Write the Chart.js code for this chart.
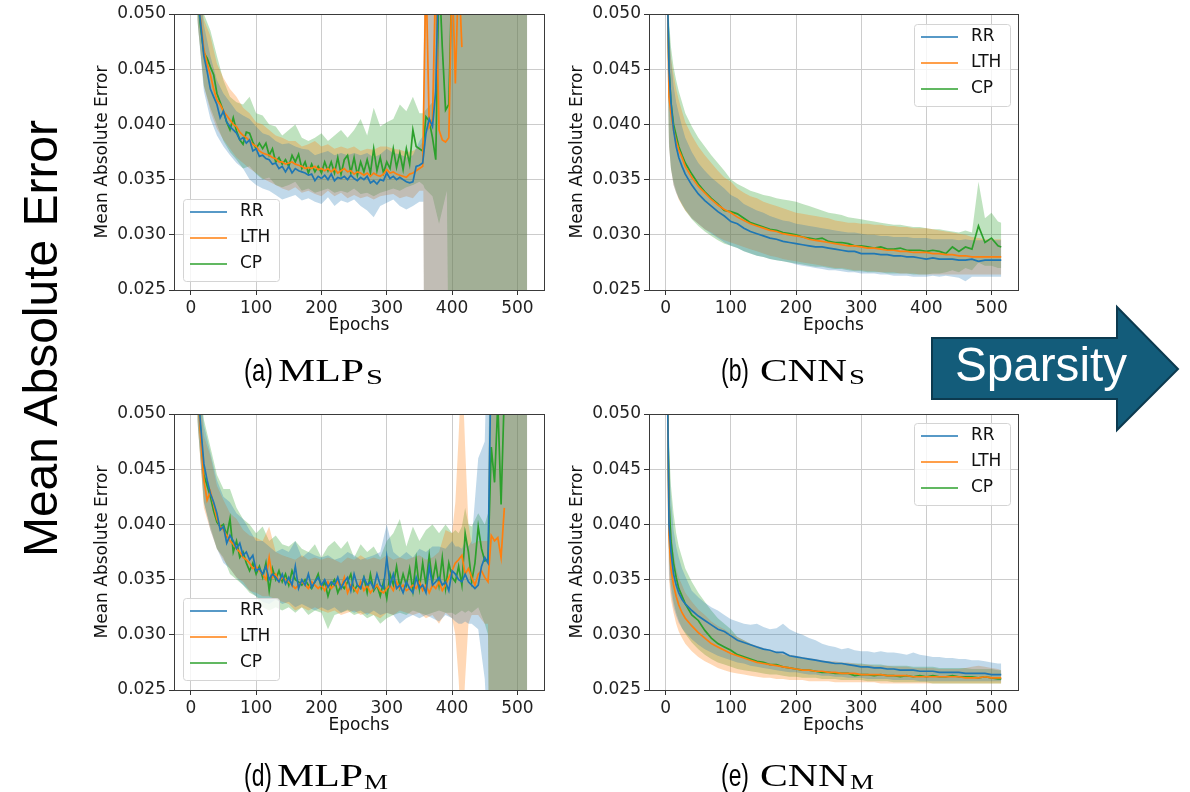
<!DOCTYPE html>
<html lang="en">
<head>
  <meta charset="UTF-8" />
  <title>Mean Absolute Error vs Epochs</title>
  <script src="https://cdn.jsdelivr.net/npm/chart.js"></script>
  <style>
    body { margin: 0; width: 1190px; height: 792px; background: #fff; position: relative; overflow: hidden; }
    canvas { position: absolute; }
    svg { position: absolute; left: 0; top: 0; z-index: 5; }
  </style>
</head>
<body>
  <canvas id="cA" width="475" height="340" style="left:80px; top:0px"></canvas>
  <canvas id="cB" width="470" height="340" style="left:560px; top:0px"></canvas>
  <canvas id="cD" width="475" height="340" style="left:80px; top:400px"></canvas>
  <canvas id="cE" width="470" height="340" style="left:560px; top:400px"></canvas>

  <svg width="1190" height="792">
    <text transform="translate(57,338.5) rotate(-90)" text-anchor="middle" font-family="Liberation Sans" font-size="48" textLength="437" lengthAdjust="spacingAndGlyphs">Mean Absolute Error</text>

    <polygon points="932,338 1117,338 1117,307 1178,369 1117,430 1117,399 932,399" fill="#135c7a" stroke="#0c3a4f" stroke-width="2" />
    <text x="955" y="381" fill="#fff" font-family="Liberation Sans" font-size="48" textLength="172" lengthAdjust="spacingAndGlyphs">Sparsity</text>

    <g font-size="32">
      <text x="244" y="381" font-family="Liberation Sans" textLength="29" lengthAdjust="spacingAndGlyphs">(a)</text>
      <text x="278" y="381" font-family="Liberation Serif" textLength="86" lengthAdjust="spacingAndGlyphs">MLP</text>
      <text x="366" y="384" font-family="Liberation Serif" font-size="21" textLength="17" lengthAdjust="spacingAndGlyphs">S</text>

      <text x="721" y="381" font-family="Liberation Sans" textLength="28" lengthAdjust="spacingAndGlyphs">(b)</text>
      <text x="760" y="381" font-family="Liberation Serif" textLength="87" lengthAdjust="spacingAndGlyphs">CNN</text>
      <text x="849" y="384" font-family="Liberation Serif" font-size="21" textLength="16" lengthAdjust="spacingAndGlyphs">S</text>

      <text x="244" y="786" font-family="Liberation Sans" textLength="28" lengthAdjust="spacingAndGlyphs">(d)</text>
      <text x="277" y="786" font-family="Liberation Serif" textLength="86" lengthAdjust="spacingAndGlyphs">MLP</text>
      <text x="364" y="789" font-family="Liberation Serif" font-size="21" textLength="24" lengthAdjust="spacingAndGlyphs">M</text>

      <text x="721" y="786" font-family="Liberation Sans" textLength="28" lengthAdjust="spacingAndGlyphs">(e)</text>
      <text x="760" y="786" font-family="Liberation Serif" textLength="88" lengthAdjust="spacingAndGlyphs">CNN</text>
      <text x="850" y="789" font-family="Liberation Serif" font-size="21" textLength="24" lengthAdjust="spacingAndGlyphs">M</text>
    </g>
  </svg>

  <script>
    // ---- axes ----
    const xTicks = [0, 100, 200, 300, 400, 500];
    const yTicks = [0.025, 0.030, 0.035, 0.040, 0.045, 0.050];
    const seriesNames = ['RR', 'LTH', 'CP'];
    const lineColors = ['#1f77b4', '#ff7f0e', '#2ca02c'];
    const bandColors = ['rgba(31,119,180,0.28)', 'rgba(255,127,14,0.3)', 'rgba(44,160,44,0.3)'];

    // ---- (a) MLP_S ----
    const mlpSEpochs = [
      10, 15, 20, 25, 30, 35, 40, 45, 50, 55,
      60, 65, 70, 75, 80, 85, 90, 95, 100, 105,
      110, 115, 120, 125, 130, 135, 140, 145, 150, 155,
      160, 165, 170, 175, 180, 185, 190, 195, 200, 205,
      210, 215, 220, 225, 230, 235, 240, 245, 250, 255,
      260, 265, 270, 275, 280, 285, 290, 295, 300, 305,
      310, 315, 320, 325, 330, 335, 340, 345, 350, 355,
      360, 365, 370, 375, 380, 385, 390, 395, 400, 405,
      410, 415];
    const rrMlpS = [
      0.052, 0.0492, 0.0462, 0.0448, 0.0432, 0.0425, 0.0418, 0.0406, 0.0412, 0.0402,
      0.0398, 0.0395, 0.0392, 0.0386, 0.0388, 0.0383, 0.0386, 0.0376, 0.0378, 0.0371,
      0.0372, 0.0369, 0.0368, 0.0364, 0.0365, 0.0360, 0.0362, 0.0357, 0.0362, 0.0356,
      0.0360, 0.0358, 0.0357, 0.0356, 0.0354, 0.0355, 0.0349, 0.0353, 0.0351, 0.0354,
      0.0350, 0.0355, 0.0349, 0.0352, 0.0351, 0.0353, 0.0350, 0.0354, 0.0351, 0.0349,
      0.0352, 0.0350, 0.0353, 0.0347, 0.0349, 0.0346, 0.0350, 0.0349, 0.0356, 0.0351,
      0.0353, 0.0350, 0.0352, 0.0350, 0.0348, 0.0347, 0.0348, 0.0362, 0.0363, 0.0365,
      0.0392, 0.0405, 0.0398, 0.0430, 0.0560, null, null, null, null, null,
      null, null];
    const lthMlpS = [
      0.052, 0.0495, 0.0468, 0.0455, 0.0445, 0.0432, 0.0422, 0.0418, 0.0412, 0.0408,
      0.0404, 0.0400, 0.0398, 0.0393, 0.0390, 0.0388, 0.0385, 0.0382, 0.0380, 0.0376,
      0.0374, 0.0373, 0.0372, 0.0370, 0.0369, 0.0366, 0.0366, 0.0364, 0.0365, 0.0366,
      0.0364, 0.0363, 0.0362, 0.0360, 0.0361, 0.0360, 0.0362, 0.0359, 0.0360, 0.0358,
      0.0360, 0.0357, 0.0360, 0.0356, 0.0358, 0.0360, 0.0357, 0.0358, 0.0355, 0.0357,
      0.0356, 0.0354, 0.0356, 0.0353, 0.0356, 0.0354, 0.0353, 0.0355, 0.0359, 0.0356,
      0.0357, 0.0355, 0.0354, 0.0353, 0.0352, 0.0355, 0.0356, 0.0358, 0.0360, 0.0362,
      0.0540, 0.0398, 0.0405, 0.0540, 0.0395, 0.0386, 0.0384, 0.0388, 0.0540, 0.0437,
      0.0540, 0.0470];
    const cpMlpS = [
      0.052, 0.0488, 0.0465, 0.0460, 0.0452, 0.0445, 0.0428, 0.0420, 0.0412, 0.0402,
      0.0395, 0.0406, 0.0394, 0.0386, 0.0382, 0.0393, 0.0392, 0.0384, 0.0378, 0.0383,
      0.0378, 0.0383, 0.0372, 0.0378, 0.0366, 0.0370, 0.0364, 0.0368, 0.0362, 0.0372,
      0.0366, 0.0373, 0.0360, 0.0366, 0.0356, 0.0364, 0.0357, 0.0362, 0.0356, 0.0366,
      0.0358, 0.0366, 0.0356, 0.0370, 0.0355, 0.0368, 0.0372, 0.0356, 0.0370, 0.0354,
      0.0366, 0.0357, 0.0368, 0.0356, 0.0378, 0.0358, 0.0370, 0.0356, 0.0366, 0.0360,
      0.0378, 0.0361, 0.0374, 0.0359, 0.0378, 0.0364, 0.0395, 0.0380, 0.0378, 0.0376,
      0.0407, 0.0403, 0.0388, 0.0368, 0.0540, 0.0470, 0.0413, 0.0418, 0.0540, null,
      null, null];

    const bandSEpochs = [
      10, 20, 30, 40, 50, 60, 70, 80, 90, 100,
      110, 120, 130, 140, 150, 160, 170, 180, 190, 200,
      210, 220, 230, 240, 250, 260, 270, 280, 290, 300,
      310, 320, 330, 340, 350, 356, 358, 370, 380, 392,
      396, 410, 420, 430, 440, 450, 460, 470, 480, 490, 500, 510, 515];
    const rrMlpSLo = [
      0.0495, 0.0430, 0.0405, 0.0390, 0.0380, 0.0372, 0.0365, 0.0360, 0.0350, 0.0345,
      0.0342, 0.0340, 0.0336, 0.0332, 0.0334, 0.0336, 0.0331, 0.0333, 0.0330, 0.0328,
      0.0334, 0.0326, 0.0331, 0.0329, 0.0332, 0.0326, 0.0322, 0.0316, 0.0326, 0.0329,
      0.0332, 0.0326, 0.0323, 0.0326, 0.0330, 0.0330, 0.010, 0.010, 0.010, 0.010,
      0.010, 0.010, 0.010, 0.010, 0.010, 0.010, 0.010, 0.010, 0.010, 0.010, 0.010, 0.010, 0.010];
    const rrMlpSHi = [
      0.055, 0.0490, 0.0462, 0.0440, 0.0428, 0.0420, 0.0412, 0.0408, 0.0405, 0.0398,
      0.0392, 0.0390, 0.0385, 0.0382, 0.0383, 0.0380, 0.0378, 0.0377, 0.0372, 0.0374,
      0.0376, 0.0372, 0.0374, 0.0372, 0.0374, 0.0372, 0.0374, 0.0370, 0.0373, 0.0378,
      0.0374, 0.0373, 0.0370, 0.0372, 0.0385, 0.0390, 0.060, 0.060, 0.060, 0.060,
      0.060, 0.060, 0.060, 0.060, 0.060, 0.060, 0.060, 0.060, 0.060, 0.060, 0.060, 0.060, 0.060];
    const lthMlpSLo = [
      0.0495, 0.0435, 0.0412, 0.0396, 0.0386, 0.0378, 0.0370, 0.0365, 0.0360, 0.0356,
      0.0351, 0.0348, 0.0345, 0.0342, 0.0340, 0.0343, 0.0338, 0.0340, 0.0337, 0.0335,
      0.0340, 0.0335, 0.0338, 0.0333, 0.0336, 0.0333, 0.0335, 0.0332, 0.0335, 0.0336,
      0.0337, 0.0333, 0.0335, 0.0333, 0.0340, 0.0340, 0.010, 0.010, 0.010, 0.010,
      0.010, 0.010, 0.010, 0.010, 0.010, 0.010, 0.010, 0.010, 0.010, 0.010, 0.010, 0.010, 0.010];
    const lthMlpSHi = [
      0.055, 0.0495, 0.0480, 0.0455, 0.0442, 0.0432, 0.0425, 0.0415, 0.0410, 0.0402,
      0.0400, 0.0395, 0.0390, 0.0388, 0.0385, 0.0385, 0.0380, 0.0382, 0.0385, 0.0380,
      0.0382, 0.0378, 0.0380, 0.0378, 0.0380, 0.0376, 0.0378, 0.0377, 0.0380, 0.0380,
      0.0378, 0.0377, 0.0375, 0.0376, 0.0380, 0.0385, 0.060, 0.060, 0.060, 0.060,
      0.060, 0.060, 0.060, 0.060, 0.060, 0.060, 0.060, 0.060, 0.060, 0.060, 0.060, 0.060, 0.060];
    const cpMlpSLo = [
      0.0495, 0.0435, 0.0415, 0.0400, 0.0385, 0.0375, 0.0368, 0.0360, 0.0362, 0.0355,
      0.0350, 0.0352, 0.0345, 0.0343, 0.0345, 0.0348, 0.0340, 0.0342, 0.0338, 0.0340,
      0.0342, 0.0338, 0.0340, 0.0338, 0.0342, 0.0337, 0.0338, 0.0335, 0.0338, 0.0340,
      0.0342, 0.0340, 0.0343, 0.0345, 0.0348, 0.0345, 0.0342, 0.0335, 0.0310, 0.0340,
      0.010, 0.010, 0.010, 0.010, 0.010, 0.010, 0.010, 0.010, 0.010, 0.010, 0.010, 0.010, 0.010];
    const cpMlpSHi = [
      0.055, 0.0500, 0.0485, 0.0462, 0.0440, 0.0425, 0.0420, 0.0418, 0.0425, 0.0410,
      0.0408, 0.0400, 0.0398, 0.0390, 0.0395, 0.0400, 0.0388, 0.0385, 0.0388, 0.0392,
      0.0385, 0.0390, 0.0395, 0.0388, 0.0395, 0.0405, 0.0390, 0.0415, 0.0398, 0.0402,
      0.0405, 0.0418, 0.0412, 0.0425, 0.0410, 0.0410, 0.0412, 0.0420, 0.060, 0.060,
      0.060, 0.060, 0.060, 0.060, 0.060, 0.060, 0.060, 0.060, 0.060, 0.060, 0.060, 0.060, 0.060];

    // ---- (d) MLP_M ----
    const mlpMEpochs = [
      10, 15, 20, 25, 30, 35, 40, 45, 50, 55,
      60, 65, 70, 75, 80, 85, 90, 95, 100, 105,
      110, 115, 120, 125, 130, 135, 140, 145, 150, 155,
      160, 165, 170, 175, 180, 185, 190, 195, 200, 205,
      210, 215, 220, 225, 230, 235, 240, 245, 250, 255,
      260, 265, 270, 275, 280, 285, 290, 295, 300, 305,
      310, 315, 320, 325, 330, 335, 340, 345, 350, 355,
      360, 365, 370, 375, 380, 385, 390, 395, 400, 405,
      410, 415, 420, 425, 430, 435, 440, 445, 450, 455,
      460, 465, 470, 475, 480];
    const rrMlpM = [
      0.053, 0.0490, 0.0455, 0.0440, 0.0428, 0.0420, 0.0410, 0.0395, 0.0398, 0.0383,
      0.0390, 0.0385, 0.0378, 0.0383, 0.0372, 0.0375, 0.0368, 0.0372, 0.0358, 0.0360,
      0.0355, 0.0362, 0.0350, 0.0355, 0.0352, 0.0348, 0.0355, 0.0346, 0.0352, 0.0345,
      0.0362, 0.0342, 0.0350, 0.0345, 0.0355, 0.0343, 0.0348, 0.0352, 0.0345, 0.0350,
      0.0343, 0.0348, 0.0345, 0.0352, 0.0342, 0.0348, 0.0352, 0.0340, 0.0355, 0.0345,
      0.0342, 0.0352, 0.0345, 0.0348, 0.0342, 0.0355, 0.0345, 0.0342, 0.0370, 0.0345,
      0.0355, 0.0342, 0.0345, 0.0338, 0.0348, 0.0342, 0.0338, 0.0352, 0.0342, 0.0345,
      0.0338, 0.0362, 0.0345, 0.0348, 0.0352, 0.0345, 0.0348, 0.0340, 0.0358, 0.0355,
      0.0350, 0.0348, 0.0355, 0.0348, 0.0345, 0.0342, 0.0345, 0.0362, 0.0370, 0.0365,
      0.0560, null, null, null, null];
    const lthMlpM = [
      0.053, 0.0480, 0.0440, 0.0422, 0.0430, 0.0418, 0.0405, 0.0398, 0.0395, 0.0390,
      0.0385, 0.0382, 0.0378, 0.0375, 0.0370, 0.0368, 0.0365, 0.0360, 0.0362, 0.0358,
      0.0355, 0.0350, 0.0370, 0.0352, 0.0355, 0.0348, 0.0352, 0.0350, 0.0348, 0.0345,
      0.0342, 0.0345, 0.0348, 0.0345, 0.0342, 0.0348, 0.0345, 0.0342, 0.0345, 0.0340,
      0.0348, 0.0342, 0.0345, 0.0348, 0.0342, 0.0352, 0.0338, 0.0345, 0.0342, 0.0338,
      0.0348, 0.0340, 0.0345, 0.0338, 0.0342, 0.0345, 0.0340, 0.0338, 0.0342, 0.0345,
      0.0340, 0.0348, 0.0342, 0.0345, 0.0340, 0.0342, 0.0345, 0.0342, 0.0348, 0.0340,
      0.0345, 0.0338, 0.0345, 0.0342, 0.0348, 0.0340, 0.0345, 0.0352, 0.0358, 0.0365,
      0.0368, 0.0372, 0.0355, 0.0360, 0.0352, 0.0345, 0.0355, 0.0358, 0.0352, 0.0348,
      0.0390, 0.0385, 0.0388, 0.0370, 0.0415];
    const cpMlpM = [
      0.053, 0.0485, 0.0445, 0.0435, 0.0425, 0.0412, 0.0402, 0.0398, 0.0400, 0.0390,
      0.0405, 0.0375, 0.0385, 0.0370, 0.0375, 0.0365, 0.0358, 0.0365, 0.0355, 0.0362,
      0.0352, 0.0365, 0.0340, 0.0360, 0.0350, 0.0358, 0.0348, 0.0355, 0.0345, 0.0358,
      0.0350, 0.0348, 0.0345, 0.0350, 0.0345, 0.0342, 0.0348, 0.0355, 0.0342, 0.0348,
      0.0335, 0.0345, 0.0350, 0.0338, 0.0345, 0.0342, 0.0348, 0.0355, 0.0340, 0.0345,
      0.0342, 0.0352, 0.0338, 0.0355, 0.0340, 0.0345, 0.0335, 0.0348, 0.0333, 0.0355,
      0.0345, 0.0362, 0.0343, 0.0355, 0.0345, 0.0360, 0.0340, 0.0368, 0.0342, 0.0365,
      0.0345, 0.0372, 0.0348, 0.0365, 0.0345, 0.0370, 0.0342, 0.0365, 0.0352, 0.0348,
      0.0362, 0.0345, 0.0392, 0.0375, 0.0348, 0.0365, 0.0398, 0.0378, 0.0367, 0.0368,
      0.0470, 0.0438, 0.0510, 0.0418, 0.0520];

    const bandMEpochs = [
      10, 20, 30, 40, 50, 60, 70, 80, 90, 100,
      110, 120, 130, 140, 150, 160, 170, 180, 190, 200,
      210, 220, 230, 240, 250, 260, 270, 280, 290, 300,
      310, 320, 330, 340, 350, 360, 370, 380, 390, 400,
      405, 410, 415, 420, 425, 430, 440, 450, 455, 458,
      470, 480, 490, 500, 510, 515];
    const rrMlpMLo = [
      0.0495, 0.0420, 0.0395, 0.0378, 0.0365, 0.0360, 0.0352, 0.0345, 0.0340, 0.0335,
      0.0330, 0.0328, 0.0332, 0.0328, 0.0330, 0.0325, 0.0328, 0.0325, 0.0322, 0.0325,
      0.0322, 0.0325, 0.0320, 0.0323, 0.0320, 0.0322, 0.0318, 0.0322, 0.0318, 0.0320,
      0.0318, 0.0310, 0.0315, 0.0318, 0.0315, 0.0318, 0.0315, 0.0312, 0.0318, 0.0315,
      0.0312, 0.0310, 0.0310, 0.0312, 0.0310, 0.0310, 0.0305, 0.0260, 0.0200, 0.010,
      0.010, 0.010, 0.010, 0.010, 0.010, 0.010];
    const rrMlpMHi = [
      0.055, 0.0490, 0.0465, 0.0440, 0.0425, 0.0420, 0.0410, 0.0405, 0.0395, 0.0385,
      0.0385, 0.0380, 0.0375, 0.0378, 0.0375, 0.0385, 0.0370, 0.0375, 0.0372, 0.0370,
      0.0372, 0.0368, 0.0370, 0.0375, 0.0372, 0.0368, 0.0370, 0.0372, 0.0375, 0.0400,
      0.0375, 0.0370, 0.0375, 0.0370, 0.0378, 0.0375, 0.0380, 0.0380, 0.0378, 0.0385,
      0.0380, 0.0380, 0.0378, 0.0385, 0.0380, 0.0385, 0.0460, 0.0475, 0.060, 0.060,
      0.060, 0.060, 0.060, 0.060, 0.060, 0.060];
    const lthMlpMLo = [
      0.0495, 0.0415, 0.0395, 0.0378, 0.0368, 0.0360, 0.0352, 0.0348, 0.0340, 0.0338,
      0.0335, 0.0335, 0.0332, 0.0330, 0.0328, 0.0322, 0.0325, 0.0322, 0.0325, 0.0322,
      0.0320, 0.0322, 0.0318, 0.0320, 0.0322, 0.0318, 0.0320, 0.0318, 0.0315, 0.0320,
      0.0318, 0.0322, 0.0320, 0.0318, 0.0320, 0.0315, 0.0318, 0.0310, 0.0320, 0.0315,
      0.0300, 0.0260, 0.0200, 0.0260, 0.0310, 0.0318, 0.0318, 0.0310, 0.0310, 0.010,
      0.010, 0.010, 0.010, 0.010, 0.010, 0.010];
    const lthMlpMHi = [
      0.055, 0.0480, 0.0462, 0.0435, 0.0422, 0.0410, 0.0405, 0.0395, 0.0390, 0.0388,
      0.0385, 0.0398, 0.0375, 0.0372, 0.0370, 0.0368, 0.0372, 0.0368, 0.0370, 0.0368,
      0.0370, 0.0368, 0.0365, 0.0370, 0.0368, 0.0372, 0.0368, 0.0370, 0.0368, 0.0372,
      0.0368, 0.0370, 0.0368, 0.0370, 0.0372, 0.0368, 0.0370, 0.0375, 0.0395, 0.0392,
      0.0420, 0.0480, 0.0550, 0.0470, 0.0400, 0.0382, 0.0385, 0.0385, 0.0385, 0.060,
      0.060, 0.060, 0.060, 0.060, 0.060, 0.060];
    const cpMlpMLo = [
      0.0495, 0.0420, 0.0398, 0.0378, 0.0370, 0.0355, 0.0350, 0.0345, 0.0338, 0.0335,
      0.0325, 0.0322, 0.0325, 0.0322, 0.0325, 0.0320, 0.0325, 0.0318, 0.0322, 0.0320,
      0.0305, 0.0318, 0.0320, 0.0322, 0.0318, 0.0320, 0.0315, 0.0318, 0.0310, 0.0315,
      0.0318, 0.0320, 0.0318, 0.0322, 0.0320, 0.0318, 0.0320, 0.0322, 0.0320, 0.0320,
      0.0318, 0.0320, 0.0322, 0.0320, 0.0322, 0.0320, 0.0325, 0.0310, 0.0300, 0.010,
      0.010, 0.010, 0.010, 0.010, 0.010, 0.010];
    const cpMlpMHi = [
      0.055, 0.0495, 0.0470, 0.0445, 0.0432, 0.0432, 0.0415, 0.0405, 0.0400, 0.0392,
      0.0398, 0.0385, 0.0390, 0.0382, 0.0380, 0.0385, 0.0378, 0.0375, 0.0382, 0.0370,
      0.0380, 0.0385, 0.0378, 0.0385, 0.0370, 0.0382, 0.0375, 0.0380, 0.0370, 0.0385,
      0.0392, 0.0405, 0.0380, 0.0398, 0.0385, 0.0395, 0.0400, 0.0392, 0.0400, 0.0392,
      0.0395, 0.0392, 0.0398, 0.0415, 0.0400, 0.0398, 0.0410, 0.0400, 0.0410, 0.060,
      0.060, 0.060, 0.060, 0.060, 0.060, 0.060];

    // ---- CNN panels share one epoch grid ----
    const cnnEpochs = [
      3, 5, 8, 12, 16, 20, 25, 30,
      40, 50, 60, 70, 80, 90, 100, 110, 120, 130,
      140, 150, 160, 170, 180, 190, 200, 210, 220, 230,
      240, 250, 260, 270, 280, 290, 300, 310, 320, 330,
      340, 350, 360, 370, 380, 390, 400, 410, 420, 430,
      440, 450, 460, 470, 480, 490, 500, 510, 515];

    // (b) CNN_S
    const rrCnnS = [
      0.051, 0.045, 0.042, 0.0395, 0.038, 0.037, 0.0362, 0.0355,
      0.0345, 0.0337, 0.0331, 0.0326, 0.0321, 0.0317, 0.0312, 0.0310, 0.0306, 0.0303,
      0.0301, 0.0299, 0.0297, 0.0296, 0.0294, 0.0293, 0.0292, 0.0291, 0.0290, 0.0289,
      0.0289, 0.0288, 0.0287, 0.0286, 0.0285, 0.0285, 0.0283, 0.0283, 0.0283, 0.0282,
      0.0282, 0.0281, 0.0281, 0.0280, 0.0280, 0.0279, 0.0278, 0.0279, 0.0278, 0.0278,
      0.0278, 0.0277, 0.0277, 0.0278, 0.0276, 0.0277, 0.0277, 0.0277, 0.0277];
    const lthCnnS = [
      0.051, 0.0425, 0.041, 0.0395, 0.0385, 0.0377, 0.037, 0.0362,
      0.0352, 0.0344, 0.0338, 0.0332, 0.0327, 0.0323, 0.0320, 0.0316, 0.0313, 0.0310,
      0.0308, 0.0306, 0.0304, 0.0303, 0.0301, 0.0300, 0.0299, 0.0298, 0.0296, 0.0295,
      0.0294, 0.0293, 0.0292, 0.0291, 0.0290, 0.0290, 0.0289, 0.0288, 0.0288, 0.0287,
      0.0286, 0.0286, 0.0285, 0.0285, 0.0284, 0.0284, 0.0284, 0.0283, 0.0283, 0.0282,
      0.0282, 0.0281, 0.0281, 0.0280, 0.0280, 0.0280, 0.0280, 0.0280, 0.0280];
    const cpCnnS = [
      0.051, 0.045, 0.042, 0.040, 0.039, 0.038, 0.0372, 0.0365,
      0.0355, 0.0346, 0.0339, 0.0333, 0.0328, 0.0322, 0.0321, 0.0319, 0.0315, 0.0311,
      0.0309, 0.0307, 0.0305, 0.0304, 0.0302, 0.0301, 0.0300, 0.0298, 0.0297, 0.0296,
      0.0297, 0.0294, 0.0293, 0.0293, 0.0292, 0.0290, 0.0290, 0.0289, 0.0288, 0.0289,
      0.0287, 0.0287, 0.0288, 0.0286, 0.0286, 0.0286, 0.0285, 0.0286, 0.0285, 0.0283,
      0.0289, 0.0285, 0.0289, 0.0287, 0.0308, 0.0293, 0.0297, 0.0290, 0.0289];
    const rrCnnSLo = [
      0.045, 0.038, 0.036, 0.0345, 0.0338, 0.0333, 0.0328, 0.0323,
      0.0315, 0.0310, 0.0305, 0.0301, 0.0297, 0.0293, 0.0290, 0.0288, 0.0285, 0.0283,
      0.0281, 0.0280, 0.0278, 0.0277, 0.0276, 0.0275, 0.0273, 0.0272, 0.0271, 0.0270,
      0.0269, 0.0268, 0.0268, 0.0267, 0.0266, 0.0266, 0.0265, 0.0265, 0.0265, 0.0264,
      0.0264, 0.0263, 0.0263, 0.0263, 0.0262, 0.0262, 0.0262, 0.0263, 0.0262, 0.0263,
      0.0262, 0.0261, 0.0258, 0.0262, 0.0262, 0.0262, 0.0262, 0.0262, 0.0262];
    const rrCnnSHi = [
      0.052, 0.049, 0.046, 0.0435, 0.042, 0.041, 0.0398, 0.0388,
      0.0375, 0.0365, 0.0358, 0.0352, 0.0347, 0.0342, 0.0336, 0.0333, 0.0328, 0.0325,
      0.0322, 0.0320, 0.0317, 0.0315, 0.0313, 0.0312, 0.0310, 0.0309, 0.0308, 0.0307,
      0.0306, 0.0305, 0.0304, 0.0303, 0.0302, 0.0302, 0.0301, 0.0300, 0.0300, 0.0299,
      0.0299, 0.0298, 0.0298, 0.0298, 0.0297, 0.0297, 0.0297, 0.0296, 0.0296, 0.0296,
      0.0296, 0.0295, 0.0296, 0.0295, 0.0295, 0.0295, 0.0295, 0.0295, 0.0295];
    const lthCnnSLo = [
      0.046, 0.038, 0.036, 0.0345, 0.0338, 0.0332, 0.0327, 0.0322,
      0.0315, 0.0310, 0.0305, 0.0302, 0.0298, 0.0295, 0.0293, 0.0291, 0.0289, 0.0287,
      0.0285, 0.0283, 0.0281, 0.0280, 0.0278, 0.0277, 0.0276, 0.0275, 0.0274, 0.0273,
      0.0272, 0.0271, 0.0270, 0.0270, 0.0269, 0.0268, 0.0268, 0.0267, 0.0267, 0.0266,
      0.0266, 0.0266, 0.0265, 0.0265, 0.0265, 0.0264, 0.0264, 0.0264, 0.0264, 0.0264,
      0.0264, 0.0264, 0.0264, 0.0264, 0.0264, 0.0264, 0.0264, 0.0264, 0.0264];
    const lthCnnSHi = [
      0.052, 0.048, 0.046, 0.0445, 0.0432, 0.0422, 0.0412, 0.0402,
      0.0390, 0.0380, 0.0372, 0.0365, 0.0358, 0.0352, 0.0348, 0.0342, 0.0338, 0.0335,
      0.0333, 0.0330, 0.0328, 0.0326, 0.0324, 0.0322, 0.0320, 0.0319, 0.0318, 0.0317,
      0.0316, 0.0315, 0.0313, 0.0312, 0.0311, 0.0311, 0.0310, 0.0310, 0.0309, 0.0309,
      0.0308, 0.0308, 0.0307, 0.0307, 0.0306, 0.0306, 0.0306, 0.0305, 0.0304, 0.0303,
      0.0302, 0.0301, 0.0300, 0.0298, 0.0297, 0.0296, 0.0296, 0.0296, 0.0296];
    const cpCnnSLo = [
      0.045, 0.0385, 0.036, 0.0348, 0.034, 0.0333, 0.0327, 0.0322,
      0.0314, 0.0308, 0.0303, 0.0299, 0.0295, 0.0292, 0.0290, 0.0288, 0.0285, 0.0283,
      0.0281, 0.0280, 0.0278, 0.0277, 0.0276, 0.0275, 0.0274, 0.0273, 0.0272, 0.0271,
      0.0271, 0.0270, 0.0269, 0.0269, 0.0268, 0.0267, 0.0267, 0.0266, 0.0266, 0.0266,
      0.0265, 0.0265, 0.0265, 0.0265, 0.0264, 0.0264, 0.0264, 0.0265, 0.0265, 0.0266,
      0.0268, 0.0266, 0.0270, 0.0268, 0.0275, 0.0272, 0.0272, 0.0270, 0.0270];
    const cpCnnSHi = [
      0.052, 0.0495, 0.047, 0.0452, 0.044, 0.043, 0.042, 0.041,
      0.0398, 0.0388, 0.0380, 0.0372, 0.0365, 0.0358, 0.0350, 0.0346, 0.0343, 0.0340,
      0.0338, 0.0336, 0.0335, 0.0333, 0.0332, 0.0331, 0.0330, 0.0328, 0.0326, 0.0324,
      0.0322, 0.0320, 0.0319, 0.0318, 0.0316, 0.0315, 0.0314, 0.0313, 0.0312, 0.0311,
      0.0310, 0.0309, 0.0309, 0.0308, 0.0307, 0.0307, 0.0306, 0.0305, 0.0305, 0.0304,
      0.0303, 0.0302, 0.0304, 0.0302, 0.0348, 0.0315, 0.0320, 0.0312, 0.0311];

    // (e) CNN_M
    const rrCnnM = [
      0.051, 0.040, 0.0375, 0.0355, 0.0345, 0.0338, 0.0332, 0.0328,
      0.0322, 0.0317, 0.0313, 0.0309, 0.0305, 0.0303, 0.0299, 0.0295, 0.0293, 0.0291,
      0.0289, 0.0287, 0.0286, 0.0284, 0.0284, 0.0281, 0.0280, 0.0279, 0.0278, 0.0277,
      0.0276, 0.0275, 0.0274, 0.0274, 0.0273, 0.0272, 0.0271, 0.0271, 0.0270, 0.0270,
      0.0269, 0.0269, 0.0268, 0.0268, 0.0268, 0.0267, 0.0267, 0.0267, 0.0266, 0.0266,
      0.0266, 0.0266, 0.0265, 0.0265, 0.0265, 0.0265, 0.0264, 0.0264, 0.0264];
    const lthCnnM = [
      0.051, 0.039, 0.036, 0.0345, 0.0335, 0.0327, 0.032, 0.0315,
      0.0308, 0.0302, 0.0297, 0.0292, 0.0289, 0.0286, 0.0283, 0.0281, 0.0279, 0.0277,
      0.0275, 0.0274, 0.0273, 0.0272, 0.0271, 0.0270, 0.0269, 0.0268, 0.0268, 0.0267,
      0.0267, 0.0266, 0.0266, 0.0265, 0.0265, 0.0265, 0.0264, 0.0264, 0.0264, 0.0264,
      0.0263, 0.0263, 0.0263, 0.0263, 0.0262, 0.0262, 0.0262, 0.0262, 0.0262, 0.0262,
      0.0262, 0.0262, 0.0261, 0.0261, 0.0261, 0.0262, 0.0261, 0.0261, 0.0261];
    const cpCnnM = [
      0.051, 0.042, 0.0385, 0.0365, 0.0352, 0.0342, 0.0335, 0.0328,
      0.0318, 0.0313, 0.0304, 0.0297, 0.0292, 0.0289, 0.0286, 0.0282, 0.0280, 0.0278,
      0.0276, 0.0275, 0.0273, 0.0273, 0.0271, 0.0270, 0.0269, 0.0268, 0.0268, 0.0267,
      0.0266, 0.0266, 0.0265, 0.0265, 0.0265, 0.0263, 0.0264, 0.0264, 0.0263, 0.0264,
      0.0263, 0.0263, 0.0262, 0.0263, 0.0262, 0.0263, 0.0262, 0.0263, 0.0262, 0.0262,
      0.0263, 0.0262, 0.0262, 0.0262, 0.0261, 0.0262, 0.0261, 0.0260, 0.0260];
    const rrCnnMLo = [
      0.044, 0.0355, 0.0338, 0.0325, 0.0317, 0.0311, 0.0306, 0.0302,
      0.0296, 0.0291, 0.0287, 0.0284, 0.0281, 0.0279, 0.0277, 0.0275, 0.0274, 0.0272,
      0.0271, 0.0270, 0.0269, 0.0268, 0.0267, 0.0266, 0.0266, 0.0265, 0.0264, 0.0264,
      0.0263, 0.0263, 0.0262, 0.0262, 0.0261, 0.0261, 0.0261, 0.0260, 0.0260, 0.0260,
      0.0260, 0.0259, 0.0259, 0.0259, 0.0259, 0.0258, 0.0258, 0.0258, 0.0258, 0.0258,
      0.0258, 0.0258, 0.0258, 0.0258, 0.0258, 0.0258, 0.0258, 0.0258, 0.0258];
    const rrCnnMHi = [
      0.052, 0.046, 0.0425, 0.0395, 0.038, 0.037, 0.036, 0.0353,
      0.0340, 0.0334, 0.0329, 0.0325, 0.0322, 0.0318, 0.0314, 0.0312, 0.0310, 0.0309,
      0.0310, 0.0307, 0.0305, 0.0306, 0.0310, 0.0305, 0.0302, 0.0300, 0.0297, 0.0295,
      0.0292, 0.0290, 0.0289, 0.0287, 0.0288, 0.0286, 0.0285, 0.0285, 0.0284, 0.0285,
      0.0284, 0.0284, 0.0283, 0.0282, 0.0284, 0.0282, 0.0281, 0.0280, 0.0280, 0.0279,
      0.0279, 0.0278, 0.0278, 0.0277, 0.0277, 0.0276, 0.0275, 0.0274, 0.0274];
    const lthCnnMLo = [
      0.044, 0.035, 0.0332, 0.032, 0.031, 0.0303, 0.0297, 0.0292,
      0.0285, 0.0280, 0.0276, 0.0273, 0.0270, 0.0268, 0.0266, 0.0265, 0.0264, 0.0263,
      0.0262, 0.0261, 0.0261, 0.0260, 0.0260, 0.0259, 0.0259, 0.0259, 0.0258, 0.0258,
      0.0258, 0.0258, 0.0257, 0.0257, 0.0257, 0.0257, 0.0257, 0.0257, 0.0257, 0.0256,
      0.0256, 0.0256, 0.0256, 0.0256, 0.0256, 0.0256, 0.0256, 0.0256, 0.0256, 0.0256,
      0.0256, 0.0256, 0.0256, 0.0256, 0.0256, 0.0256, 0.0256, 0.0256, 0.0256];
    const lthCnnMHi = [
      0.052, 0.044, 0.040, 0.0375, 0.036, 0.0352, 0.0345, 0.0338,
      0.0330, 0.0323, 0.0318, 0.0312, 0.0308, 0.0305, 0.0301, 0.0298, 0.0295, 0.0292,
      0.0290, 0.0288, 0.0286, 0.0285, 0.0283, 0.0282, 0.0281, 0.0280, 0.0279, 0.0278,
      0.0277, 0.0276, 0.0276, 0.0275, 0.0275, 0.0274, 0.0273, 0.0273, 0.0272, 0.0272,
      0.0272, 0.0271, 0.0271, 0.0271, 0.0270, 0.0270, 0.0270, 0.0270, 0.0269, 0.0269,
      0.0269, 0.0269, 0.0270, 0.0271, 0.0272, 0.0271, 0.0270, 0.0269, 0.0268];
    const cpCnnMLo = [
      0.045, 0.037, 0.0345, 0.033, 0.032, 0.0313, 0.0306, 0.0301,
      0.0293, 0.0287, 0.0282, 0.0278, 0.0275, 0.0273, 0.0271, 0.0269, 0.0268, 0.0267,
      0.0266, 0.0265, 0.0264, 0.0264, 0.0263, 0.0262, 0.0262, 0.0261, 0.0261, 0.0261,
      0.0260, 0.0260, 0.0260, 0.0259, 0.0259, 0.0259, 0.0259, 0.0258, 0.0258, 0.0258,
      0.0258, 0.0257, 0.0257, 0.0257, 0.0257, 0.0257, 0.0257, 0.0256, 0.0256, 0.0256,
      0.0256, 0.0256, 0.0256, 0.0256, 0.0256, 0.0256, 0.0256, 0.0256, 0.0256];
    const cpCnnMHi = [
      0.052, 0.047, 0.0435, 0.041, 0.0392, 0.038, 0.037, 0.036,
      0.0348, 0.0338, 0.0330, 0.0322, 0.0315, 0.0310, 0.0305, 0.0298, 0.0295, 0.0292,
      0.0289, 0.0287, 0.0285, 0.0284, 0.0282, 0.0281, 0.0280, 0.0279, 0.0278, 0.0277,
      0.0276, 0.0276, 0.0275, 0.0275, 0.0274, 0.0274, 0.0274, 0.0273, 0.0273, 0.0273,
      0.0272, 0.0272, 0.0272, 0.0272, 0.0271, 0.0271, 0.0271, 0.0271, 0.0270, 0.0270,
      0.0270, 0.0270, 0.0270, 0.0269, 0.0269, 0.0269, 0.0269, 0.0268, 0.0268];

    Chart.defaults.font.family = "'DejaVu Sans', sans-serif";
    Chart.defaults.font.size = 17;
    Chart.defaults.color = '#111';

    function pts(xs, ys) {
      return xs.map((x, i) => ({ x: x, y: ys[i] === undefined ? null : ys[i] }));
    }

    // axes box on all four sides, like matplotlib spines
    const frame = {
      id: 'frame',
      afterDatasetsDraw(chart) {
        const a = chart.chartArea, c = chart.ctx;
        c.save();
        c.strokeStyle = '#3a3a3a';
        c.lineWidth = 1;
        c.strokeRect(Math.round(a.left) + 0.5, Math.round(a.top) + 0.5,
          Math.round(a.right - a.left), Math.round(a.bottom - a.top));
        c.restore();
      }
    };

    // legend drawn inside the plot area
    const boxLegend = {
      id: 'boxLegend',
      afterDatasetsDraw(chart, args, opts) {
        const a = chart.chartArea, c = chart.ctx;
        const w = 96, h = 82;
        const x = Math.round(opts.corner === 'll' ? a.left + opts.dx : a.right - opts.dx - w);
        const y = Math.round(opts.corner === 'll' ? a.bottom - opts.dy - h : a.top + opts.dy);
        c.save();
        c.fillStyle = 'rgba(255,255,255,0.8)';
        c.strokeStyle = '#d4d4d4';
        c.lineWidth = 1;
        c.beginPath();
        c.roundRect(x + 0.5, y + 0.5, w, h, 3);
        c.fill();
        c.stroke();
        c.font = "17px 'DejaVu Sans'";
        c.textBaseline = 'middle';
        seriesNames.forEach((n, k) => {
          const yy = y + 13 + 26 * k;
          c.strokeStyle = lineColors[k];
          c.lineWidth = 1.6;
          c.beginPath();
          c.moveTo(x + 7, yy);
          c.lineTo(x + 44, yy);
          c.stroke();
          c.fillStyle = '#111';
          c.fillText(n, x + 57, yy);
        });
        c.restore();
      }
    };

    function makePanel(id, p) {
      const datasets = [];
      p.bands.forEach((b, k) => {
        datasets.push({ data: pts(p.bandX, b[1]), borderWidth: 0, pointRadius: 0, fill: false, order: 2 });
        datasets.push({ data: pts(p.bandX, b[0]), borderWidth: 0, pointRadius: 0, fill: '-1',
          backgroundColor: bandColors[k], order: 2 });
      });
      p.lines.forEach((l, k) => {
        datasets.push({ label: seriesNames[k], data: pts(p.lineX, l), borderColor: lineColors[k],
          borderWidth: 1.7, pointRadius: 0, fill: false, tension: 0, order: 1 });
      });

      const grid = { color: '#cccccc', lineWidth: 1, tickColor: '#333', tickLength: 5, drawTicks: true };

      new Chart(document.getElementById(id), {
        type: 'line',
        data: { datasets: datasets },
        options: {
          responsive: false,
          animation: false,
          devicePixelRatio: 1,
          layout: { padding: { top: 14, right: p.padRight, bottom: 0, left: 0 } },
          plugins: {
            legend: { display: false },
            tooltip: { enabled: false },
            boxLegend: p.legend
          },
          scales: {
            x: {
              type: 'linear',
              min: -25.7,
              max: 540.7,
              afterBuildTicks: s => { s.ticks = xTicks.map(v => ({ value: v })); },
              afterFit: s => { s.height = 50; },
              grid: grid,
              border: { display: false },
              ticks: { padding: 3, maxRotation: 0, autoSkip: false, color: '#222' },
              title: { display: true, text: 'Epochs', padding: { top: 0, bottom: 4 } }
            },
            y: {
              min: 0.025,
              max: 0.05,
              afterBuildTicks: s => { s.ticks = yTicks.map(v => ({ value: v })); },
              afterFit: s => { s.width = p.yWidth; },
              grid: grid,
              border: { display: false },
              ticks: { padding: 3, color: '#222', callback: v => v.toFixed(3) },
              title: { display: true, text: 'Mean Absolute Error', padding: { top: p.titlePad, bottom: 0 } }
            }
          }
        },
        plugins: [frame, boxLegend]
      });
    }

    makePanel('cA', {
      yWidth: 94, padRight: 11, titlePad: 12,
      lineX: mlpSEpochs, bandX: bandSEpochs,
      lines: [rrMlpS, lthMlpS, cpMlpS],
      bands: [[rrMlpSLo, rrMlpSHi], [lthMlpSLo, lthMlpSHi], [cpMlpSLo, cpMlpSHi]],
      legend: { corner: 'll', dx: 9, dy: 9 }
    });
    makePanel('cB', {
      yWidth: 89, padRight: 12, titlePad: 7,
      lineX: cnnEpochs, bandX: cnnEpochs,
      lines: [rrCnnS, lthCnnS, cpCnnS],
      bands: [[rrCnnSLo, rrCnnSHi], [lthCnnSLo, lthCnnSHi], [cpCnnSLo, cpCnnSHi]],
      legend: { corner: 'ur', dx: 8, dy: 10 }
    });
    makePanel('cD', {
      yWidth: 94, padRight: 11, titlePad: 12,
      lineX: mlpMEpochs, bandX: bandMEpochs,
      lines: [rrMlpM, lthMlpM, cpMlpM],
      bands: [[rrMlpMLo, rrMlpMHi], [lthMlpMLo, lthMlpMHi], [cpMlpMLo, cpMlpMHi]],
      legend: { corner: 'll', dx: 9, dy: 10 }
    });
    makePanel('cE', {
      yWidth: 89, padRight: 12, titlePad: 7,
      lineX: cnnEpochs, bandX: cnnEpochs,
      lines: [rrCnnM, lthCnnM, cpCnnM],
      bands: [[rrCnnMLo, rrCnnMHi], [lthCnnMLo, lthCnnMHi], [cpCnnMLo, cpCnnMHi]],
      legend: { corner: 'ur', dx: 8, dy: 9 }
    });
  </script>
</body>
</html>
